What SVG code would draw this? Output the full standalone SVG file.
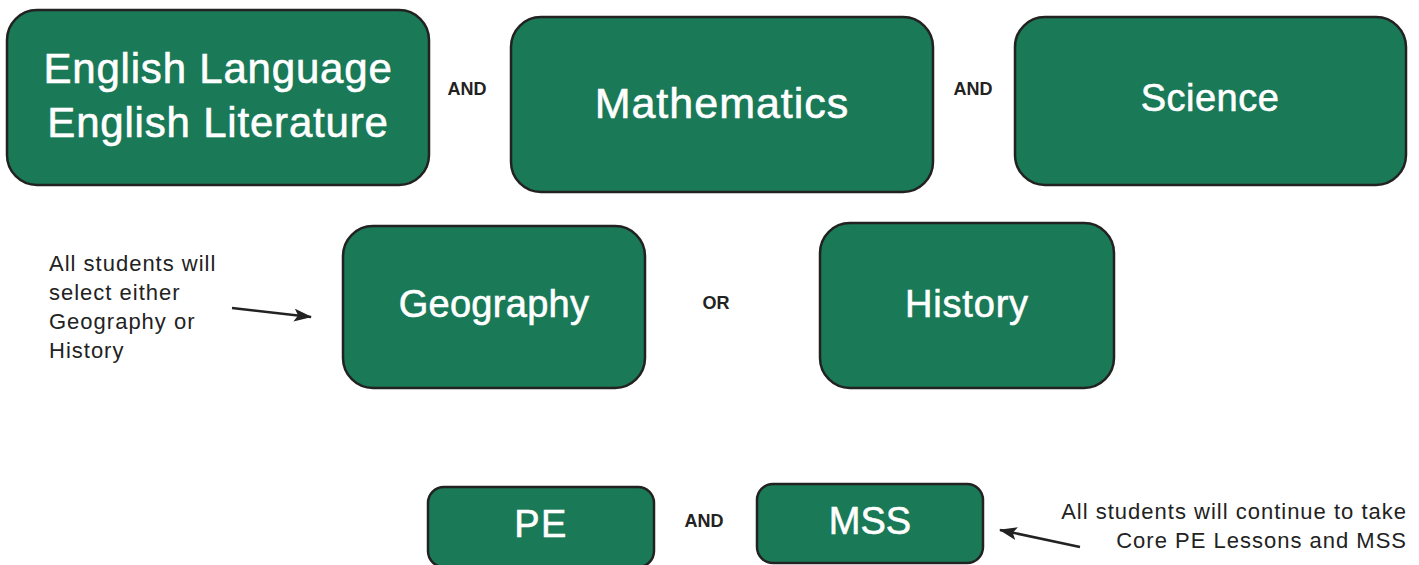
<svg xmlns="http://www.w3.org/2000/svg" width="1419" height="565" viewBox="0 0 1419 565">
<defs>
<style>
.box{fill:#1a7957;stroke:#222;stroke-width:2.5}
.bt{font-family:"Liberation Sans",Arial,sans-serif;fill:#fff;stroke:#fff;stroke-width:0.6;text-anchor:middle}
.lbl{font-family:"Liberation Sans",Arial,sans-serif;font-weight:bold;font-size:18px;fill:#222;text-anchor:middle}
.note{font-family:"Liberation Sans",Arial,sans-serif;font-size:22px;letter-spacing:1px;fill:#222}
.conn{stroke:#222;stroke-width:2.5;fill:none;marker-end:url(#ah)}
</style>
<marker id="ah" markerWidth="18" markerHeight="13" refX="17" refY="6.5" orient="auto" markerUnits="userSpaceOnUse" viewBox="0 0 18 13">
<path d="M0,0 L18,6.5 L0,13 L4,6.5 Z" fill="#222"/>
</marker>
</defs>
<rect width="1419" height="565" fill="#fff"/>
<g id="english"><rect class="box" x="7" y="10" width="422" height="175" rx="30"/>
<text class="bt" x="218" y="83" font-size="42" letter-spacing="0.8">English Language</text>
<text class="bt" x="218" y="137" font-size="42" letter-spacing="0.8">English Literature</text></g>
<g id="maths"><rect class="box" x="511" y="17" width="422" height="175" rx="30"/>
<text class="bt" x="722" y="118" font-size="43" letter-spacing="1">Mathematics</text></g>
<g id="science"><rect class="box" x="1015" y="17" width="391" height="168" rx="30"/>
<text class="bt" x="1210" y="111" font-size="38" letter-spacing="0.5">Science</text></g>
<g id="geography"><rect class="box" x="343" y="226" width="302" height="162" rx="30"/>
<text class="bt" x="494" y="317" font-size="38" letter-spacing="0.3">Geography</text></g>
<g id="history"><rect class="box" x="820" y="223" width="294" height="165" rx="30"/>
<text class="bt" x="967" y="317" font-size="38" letter-spacing="0.8">History</text></g>
<g id="pe"><rect class="box" x="428" y="487" width="226" height="80" rx="16"/>
<text class="bt" x="541" y="537" font-size="38" letter-spacing="1.5">PE</text></g>
<g id="mss"><rect class="box" x="757" y="484" width="226" height="79" rx="16"/>
<text class="bt" x="870" y="534" font-size="38">MSS</text></g>
<g id="labels">
<text class="lbl" x="467" y="95">AND</text>
<text class="lbl" x="973" y="95">AND</text>
<text class="lbl" x="716" y="309">OR</text>
<text class="lbl" x="704" y="527">AND</text>
</g>
<g id="notes">
<text class="note" x="49" y="271">All students will</text>
<text class="note" x="49" y="300">select either</text>
<text class="note" x="49" y="329">Geography or</text>
<text class="note" x="49" y="358">History</text>
<text class="note" x="1407" y="519" text-anchor="end">All students will continue to take</text>
<text class="note" x="1407" y="548" text-anchor="end">Core PE Lessons and MSS</text>
</g>
<g id="connectors">
<line class="conn" x1="232" y1="308" x2="311" y2="317"/>
<line class="conn" x1="1080" y1="547" x2="1000" y2="530"/>
</g>
</svg>
